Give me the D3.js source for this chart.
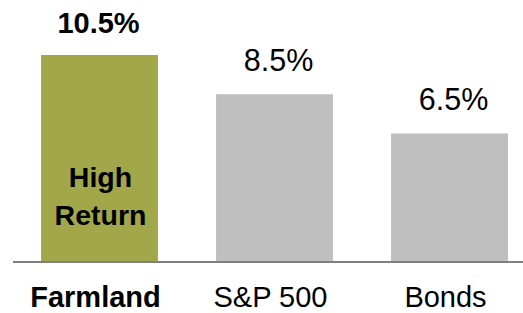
<!DOCTYPE html>
<html><head><meta charset="utf-8">
<script src="https://cdn.jsdelivr.net/npm/d3@7"></script>
<style>body{margin:0;background:#fff;}svg{display:block;font-family:"Liberation Sans",Arial,sans-serif;}</style>
</head><body>
<script>
const categories = ["Farmland", "S&P 500", "Bonds"];
const values = [10.5, 8.5, 6.5];
const valueLabels = ["10.5%", "8.5%", "6.5%"];
const highlight = [true, false, false];
const innerLabel = ["High", "Return"];

const W = 523, H = 313;
const svg = d3.select("body").append("svg").attr("width", W).attr("height", H);

const x = d3.scaleBand().domain(categories).range([12, 537]).paddingInner(0.332).paddingOuter(0.166);
const y = d3.scaleLinear().domain([0, 10.5]).range([261, 55]);

svg.selectAll("rect.bar").data(categories).enter().append("rect")
  .attr("class", "bar")
  .attr("x", d => x(d))
  .attr("width", x.bandwidth())
  .attr("y", (d, i) => y(values[i]))
  .attr("height", (d, i) => y(0) - y(values[i]))
  .attr("fill", (d, i) => highlight[i] ? "#a2a849" : "#bfbfbf");

// baseline
svg.append("line").attr("x1", 13).attr("x2", W).attr("y1", y(0) + 1).attr("y2", y(0) + 1)
  .attr("stroke", "#7f7f7f").attr("stroke-width", 2);

// value labels
svg.selectAll("text.val").data(categories).enter().append("text")
  .attr("class", "val")
  .attr("x", (d, i) => x(d) + x.bandwidth() / 2 + (highlight[i] ? -1 : 4))
  .attr("y", (d, i) => y(values[i]) - (highlight[i] ? 22 : 23))
  .attr("text-anchor", "middle")
  .attr("font-size", (d, i) => highlight[i] ? 29 : 30.5)
  .attr("font-weight", (d, i) => highlight[i] ? "bold" : "normal")
  .attr("fill", "#000")
  .text((d, i) => valueLabels[i]);

// category labels
svg.selectAll("text.cat").data(categories).enter().append("text")
  .attr("class", "cat")
  .attr("x", (d, i) => x(d) + x.bandwidth() / 2 - 4)
  .attr("y", 306.5)
  .attr("text-anchor", "middle")
  .attr("font-size", 29)
  .attr("font-weight", (d, i) => highlight[i] ? "bold" : "normal")
  .attr("fill", "#000")
  .text(d => d);

// inner label
const cx = x(categories[0]) + x.bandwidth() / 2 + 1;
svg.selectAll("text.inner").data(innerLabel).enter().append("text")
  .attr("class", "inner")
  .attr("x", cx)
  .attr("y", (d, i) => 187 + i * 38)
  .attr("text-anchor", "middle")
  .attr("font-size", 28.5)
  .attr("font-weight", "bold")
  .attr("fill", "#000")
  .text(d => d);
</script>
</body></html>
